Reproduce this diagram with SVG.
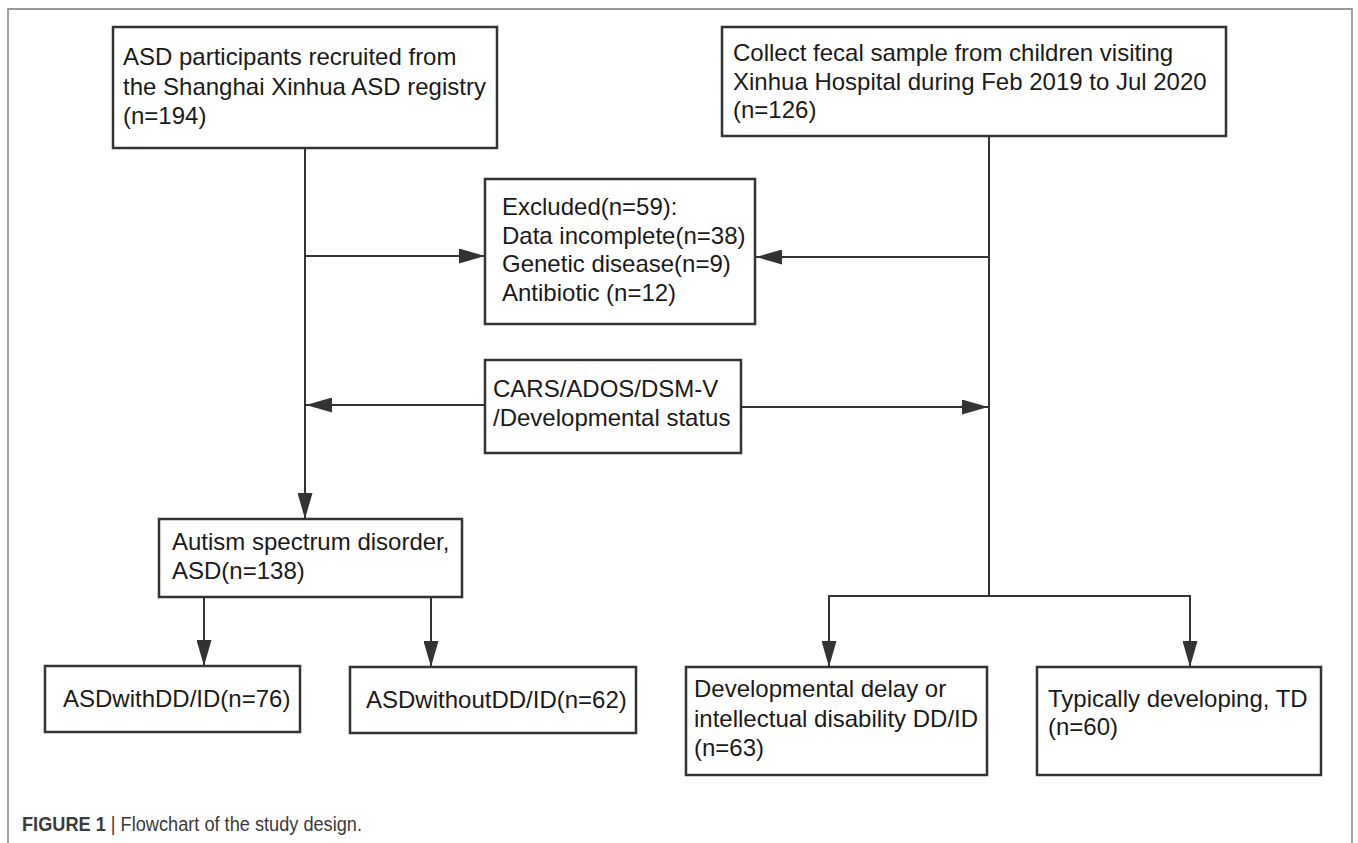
<svg xmlns="http://www.w3.org/2000/svg" width="1358" height="843" viewBox="0 0 1358 843">
<defs>
<style>
.box{fill:#fff;stroke:#333;stroke-width:2.5}
.t{font-family:"Liberation Sans",Arial,sans-serif;font-size:24px;fill:#1a1a1a}
.c{fill:none;stroke:#333;stroke-width:2}
.cap{font-family:"Liberation Sans",Arial,sans-serif;font-size:20px;fill:#3a3a3a}
</style>
<marker id="ah" viewBox="0 0 26 15" refX="26" refY="7.5" markerWidth="26" markerHeight="15" markerUnits="userSpaceOnUse" orient="auto">
<path d="M0,0 L26,7.5 L0,15 z" fill="#333"/>
</marker>
</defs>
<rect width="1358" height="843" fill="#fff"/>
<path d="M8,843 V9 H1352 V843" fill="none" stroke="#999" stroke-width="1.8"/>

<g id="connectors">
<path class="c" d="M305,148 V519" marker-end="url(#ah)"/>
<path class="c" d="M305,256 H485" marker-end="url(#ah)"/>
<path class="c" d="M989,136 V596"/>
<path class="c" d="M989,257 H756" marker-end="url(#ah)"/>
<path class="c" d="M485,405 H306" marker-end="url(#ah)"/>
<path class="c" d="M741,407 H988" marker-end="url(#ah)"/>
<path class="c" d="M204,597 V666" marker-end="url(#ah)"/>
<path class="c" d="M431,597 V667" marker-end="url(#ah)"/>
<path class="c" d="M989,596 H829 V667" marker-end="url(#ah)"/>
<path class="c" d="M989,596 H1190 V667" marker-end="url(#ah)"/>
</g>

<g id="asd-registry">
<rect class="box" x="113" y="27" width="384" height="121"/>
<text class="t" x="123" y="65">ASD participants recruited from</text>
<text class="t" x="123" y="95">the Shanghai Xinhua ASD registry</text>
<text class="t" x="123" y="124">(n=194)</text>
</g>

<g id="fecal-sample">
<rect class="box" x="722" y="27" width="504" height="109"/>
<text class="t" x="733" y="61">Collect fecal sample from children visiting</text>
<text class="t" x="733" y="90">Xinhua Hospital during Feb 2019 to Jul 2020</text>
<text class="t" x="733" y="118">(n=126)</text>
</g>

<g id="excluded">
<rect class="box" x="485" y="179" width="270" height="145"/>
<text class="t" x="502" y="215">Excluded(n=59):</text>
<text class="t" x="502" y="243.5">Data incomplete(n=38)</text>
<text class="t" x="502" y="272">Genetic disease(n=9)</text>
<text class="t" x="502" y="300.5">Antibiotic (n=12)</text>
</g>

<g id="assessment">
<rect class="box" x="485" y="360" width="256" height="93"/>
<text class="t" x="493" y="397">CARS/ADOS/DSM-V</text>
<text class="t" x="493" y="426">/Developmental status</text>
</g>

<g id="asd">
<rect class="box" x="159" y="519" width="303" height="78"/>
<text class="t" x="172" y="550">Autism spectrum disorder,</text>
<text class="t" x="172" y="579">ASD(n=138)</text>
</g>

<g id="asd-with">
<rect class="box" x="45" y="666" width="255" height="66"/>
<text class="t" x="63" y="707">ASDwithDD/ID(n=76)</text>
</g>

<g id="asd-without">
<rect class="box" x="350" y="667" width="286" height="66"/>
<text class="t" x="366" y="708">ASDwithoutDD/ID(n=62)</text>
</g>

<g id="dd-id">
<rect class="box" x="686" y="667" width="301" height="108"/>
<text class="t" x="694" y="697">Developmental delay or</text>
<text class="t" x="694" y="727">intellectual disability DD/ID</text>
<text class="t" x="694" y="756">(n=63)</text>
</g>

<g id="td">
<rect class="box" x="1037" y="667" width="284" height="108"/>
<text class="t" x="1048" y="707">Typically developing, TD</text>
<text class="t" x="1048" y="735">(n=60)</text>
</g>

<g id="caption">
<text class="cap" x="22" y="831" textLength="340" lengthAdjust="spacingAndGlyphs"><tspan font-weight="bold">FIGURE 1</tspan> | Flowchart of the study design.</text>
</g>
</svg>
